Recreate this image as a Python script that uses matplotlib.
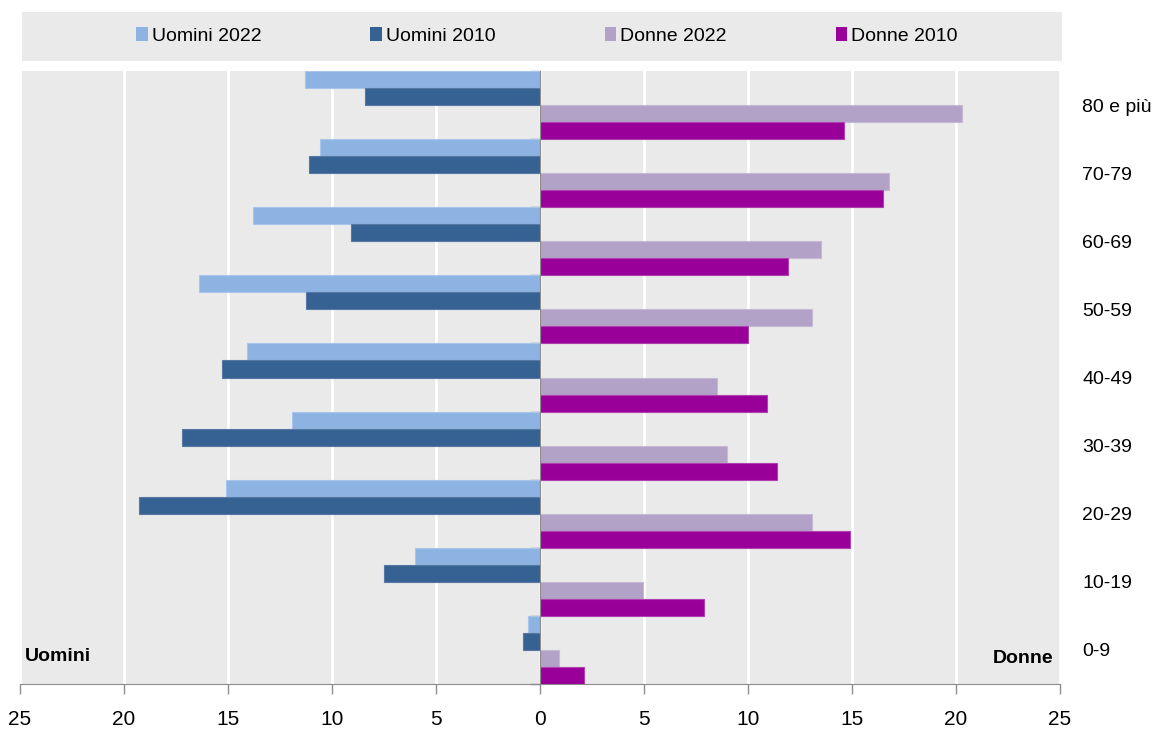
"""
Pyramid-style bar chart: Uomini vs Donne by age group, 2010 and 2022.
"""

import matplotlib
matplotlib.use("Agg")
import matplotlib.pyplot as plt
from matplotlib.patches import Rectangle
import numpy as np

plt.rcParams["font.family"] = ["Liberation Sans", "DejaVu Sans"]

age_groups = ["0-9", "10-19", "20-29", "30-39", "40-49",
              "50-59", "60-69", "70-79", "80 e più"]

uomini_2022 = [0.6, 6.0, 15.1, 11.9, 14.1, 16.4, 13.8, 10.6, 11.3]
uomini_2010 = [0.8, 7.5, 19.3, 17.2, 15.3, 11.25, 9.1, 11.1, 8.4]
donne_2022 = [0.9, 4.95, 13.1, 9.0, 8.5, 13.1, 13.5, 16.8, 20.3]
donne_2010 = [2.1, 7.9, 14.9, 11.4, 10.9, 10.0, 11.9, 16.5, 14.6]

xticks = [-25, -20, -15, -10, -5, 0, 5, 10, 15, 20, 25]
xtick_labels = ["25", "20", "15", "10", "5", "0", "5", "10", "15", "20", "25"]

BG = "#EAEAEA"
C_U22, C_U10 = "#8DB3E2", "#356293"
C_D22, C_D10 = "#B3A2C7", "#990099"

fig = plt.figure(figsize=(11.56, 7.29), dpi=100)
W, H = 1156, 729

ax = fig.add_axes([20 / W, (H - 684) / H, 1040 / W, 613 / H])
ax.set_facecolor(BG)

y = np.arange(len(age_groups))
h = 0.25
series = [
    ("Uomini 2022", -np.array(uomini_2022), y + 0.375, C_U22, "#A8C6EC"),
    ("Uomini 2010", -np.array(uomini_2010), y + 0.125, C_U10, "#5678A2"),
    ("Donne 2022", np.array(donne_2022), y - 0.125, C_D22, "#C6B9D6"),
    ("Donne 2010", np.array(donne_2010), y - 0.375, C_D10, "#B040B0"),
]
for label, vals, pos, col, edge in series:
    ax.barh(pos, vals, height=h, color=col, edgecolor=edge,
            linewidth=0.8, label=label, zorder=3)

ax.set_xlim(-25, 25)
ax.set_ylim(-0.5, len(age_groups) - 0.5)

# white vertical gridlines
ax.set_xticks(xticks)
ax.set_xticklabels(xtick_labels, fontsize=15)
ax.xaxis.grid(True, color="white", linewidth=2, zorder=1)
ax.tick_params(axis="x", direction="out", length=7, width=1,
               color="#8C8C8C", pad=12)

# central axis at x=0 with ticks at the group boundaries
for s in ["top", "right"]:
    ax.spines[s].set_visible(False)
ax.spines["left"].set_position(("data", 0))
ax.spines["left"].set_color("#8C8C8C")
ax.spines["left"].set_zorder(4)
ax.spines["bottom"].set_color("#8C8C8C")
ax.set_yticks(np.arange(-0.5, len(age_groups), 1.0))
ax.set_yticklabels([])
ax.tick_params(axis="y", direction="out", length=7, width=1,
               color="#8C8C8C")

# age labels on the right
sec = ax.secondary_yaxis("right")
sec.set_yticks(y)
sec.set_yticklabels(age_groups, fontsize=14)
sec.tick_params(length=0, pad=16)
sec.spines["right"].set_visible(False)

ax.text(0.005, 0.045, "Uomini", transform=ax.transAxes, fontsize=14,
        fontweight="bold", ha="left", va="center")
ax.text(0.9935, 0.042, "Donne", transform=ax.transAxes, fontsize=14,
        fontweight="bold", ha="right", va="center")

# legend on a grey strip
fig.patches.append(Rectangle((22 / W, (H - 61) / H), 1040 / W, 49 / H,
                             transform=fig.transFigure, facecolor=BG,
                             edgecolor="none", zorder=0))
handles, labels = ax.get_legend_handles_labels()
leg = fig.legend(handles, labels, loc="center", ncol=4,
                 bbox_to_anchor=(547 / W, (H - 36) / H), frameon=False,
                 fontsize=14, handlelength=0.6, handleheight=0.67,
                 handletextpad=0.2, columnspacing=5.6)
for hd in leg.legend_handles:
    hd.set_edgecolor("none")

fig.savefig("out.png", dpi=100)
